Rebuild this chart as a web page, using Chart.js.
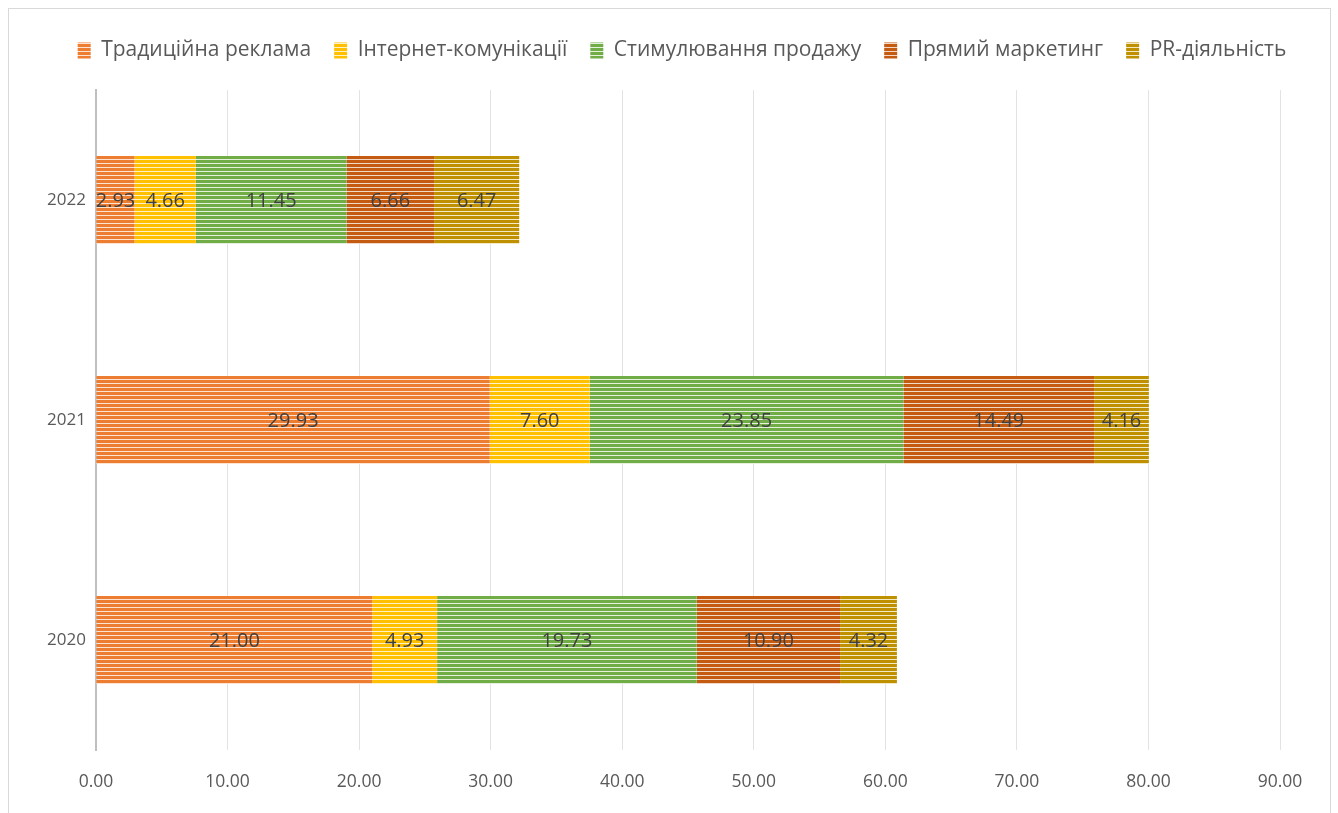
<!DOCTYPE html>
<html>
<head>
<meta charset="utf-8">
<script src="https://cdn.jsdelivr.net/npm/chart.js@4.4.1/dist/chart.umd.min.js"></script>
<style>
html,body{margin:0;padding:0;background:#fff;}
#wrap{width:1338px;height:813px;position:relative;}
</style>
</head>
<body>
<div id="wrap"><canvas id="c" width="1338" height="813"></canvas></div>
<script>
const years = ['2020', '2021', '2022'];
const seriesNames = ['Традиційна реклама', 'Інтернет-комунікації', 'Стимулювання продажу', 'Прямий маркетинг', 'PR-діяльність'];
const traditional = [21.00, 29.93, 2.93];
const internet = [4.93, 7.60, 4.66];
const salesPromo = [19.73, 23.85, 11.45];
const directMarketing = [10.90, 14.49, 6.66];
const prActivity = [4.32, 4.16, 6.47];
const xTicks = [0, 10, 20, 30, 40, 50, 60, 70, 80, 90];

const colors = ['#ED7D31', '#FFC000', '#70AD47', '#C55A11', '#BF9000'];
const gapColors = ['#FDE3D2', '#FFF2C7', '#E4F0DB', '#F2D8C7', '#F3E9C4'];

function stripe(color, gap) {
  const c = document.createElement('canvas');
  c.width = 4; c.height = 4;
  const g = c.getContext('2d');
  g.fillStyle = gap; g.fillRect(0, 0, 4, 4);
  g.fillStyle = color; g.fillRect(0, 0, 4, 3);
  return g.createPattern(c, 'repeat');
}

const allSeries = [traditional, internet, salesPromo, directMarketing, prActivity];
const font = "'Open Sans', 'Noto Sans', sans-serif";

const datasets = allSeries.map((d, i) => ({
  label: seriesNames[i],
  data: d,
  backgroundColor: stripe(colors[i], gapColors[i]),
  borderWidth: 0,
  categoryPercentage: 1.0,
  barPercentage: 0.4
}));

const labelPlugin = {
  id: 'valueLabels',
  afterDatasetsDraw(chart) {
    const ctx = chart.ctx;
    ctx.save();
    ctx.font = "20px " + font;
    ctx.fillStyle = '#404040';
    ctx.textAlign = 'center';
    ctx.textBaseline = 'middle';
    chart.data.datasets.forEach((ds, di) => {
      const meta = chart.getDatasetMeta(di);
      meta.data.forEach((el, j) => {
        const cx = (el.x + el.base) / 2;
        ctx.fillText(Number(ds.data[j]).toFixed(2), cx, el.y + 1);
      });
    });
    ctx.restore();
  }
};

const borderPlugin = {
  id: 'outerBorder',
  afterInit(chart) {
    const lg = chart.legend;
    if (lg) {
      const orig = lg.fit.bind(lg);
      lg.fit = function () { orig(); this.height = 73; };
    }
  },
  afterLayout(chart) {
    const lg = chart.legend;
    if (lg) { lg.left += 42; lg.right += 42; }
  },
  beforeDraw(chart) {
    const ctx = chart.ctx;
    ctx.save();
    ctx.fillStyle = '#fff';
    ctx.fillRect(0, 0, chart.width, chart.height);
    ctx.strokeStyle = '#d9d9d9';
    ctx.lineWidth = 1;
    ctx.strokeRect(8.5, 8.5, 1322, 820);
    ctx.restore();
  }
};

new Chart(document.getElementById('c'), {
  type: 'bar',
  data: { labels: years, datasets },
  plugins: [borderPlugin, labelPlugin],
  options: {
    responsive: false,
    animation: false,
    indexAxis: 'y',
    layout: { padding: { top: 17, left: 0, right: 58, bottom: 0 } },
    plugins: {
      legend: {
        position: 'top',
        labels: {
          boxWidth: 13,
          boxHeight: 16,
          padding: 23,
          color: '#595959',
          font: { family: font, size: 21 }
        }
      },
      tooltip: { enabled: false }
    },
    scales: {
      x: {
        stacked: true,
        min: 0,
        max: 90,
        afterBuildTicks(scale) { scale.ticks = xTicks.map(v => ({ value: v })); },
        afterFit(scale) { scale.height = 63; },
        ticks: {
          padding: 22,
          color: '#595959',
          font: { family: font, size: 17.5 },
          callback: v => Number(v).toFixed(2)
        },
        grid: { color: '#e3e3e3', lineWidth: 1, drawTicks: false },
        border: { display: false }
      },
      y: {
        stacked: true,
        reverse: true,
        afterFit(scale) { scale.width = 96; },
        ticks: {
          padding: 10,
          color: '#595959',
          font: { family: font, size: 17 }
        },
        grid: { display: false, drawTicks: false },
        border: { display: true, color: '#bfbfbf', width: 2 }
      }
    }
  }
});
</script>
</body>
</html>
